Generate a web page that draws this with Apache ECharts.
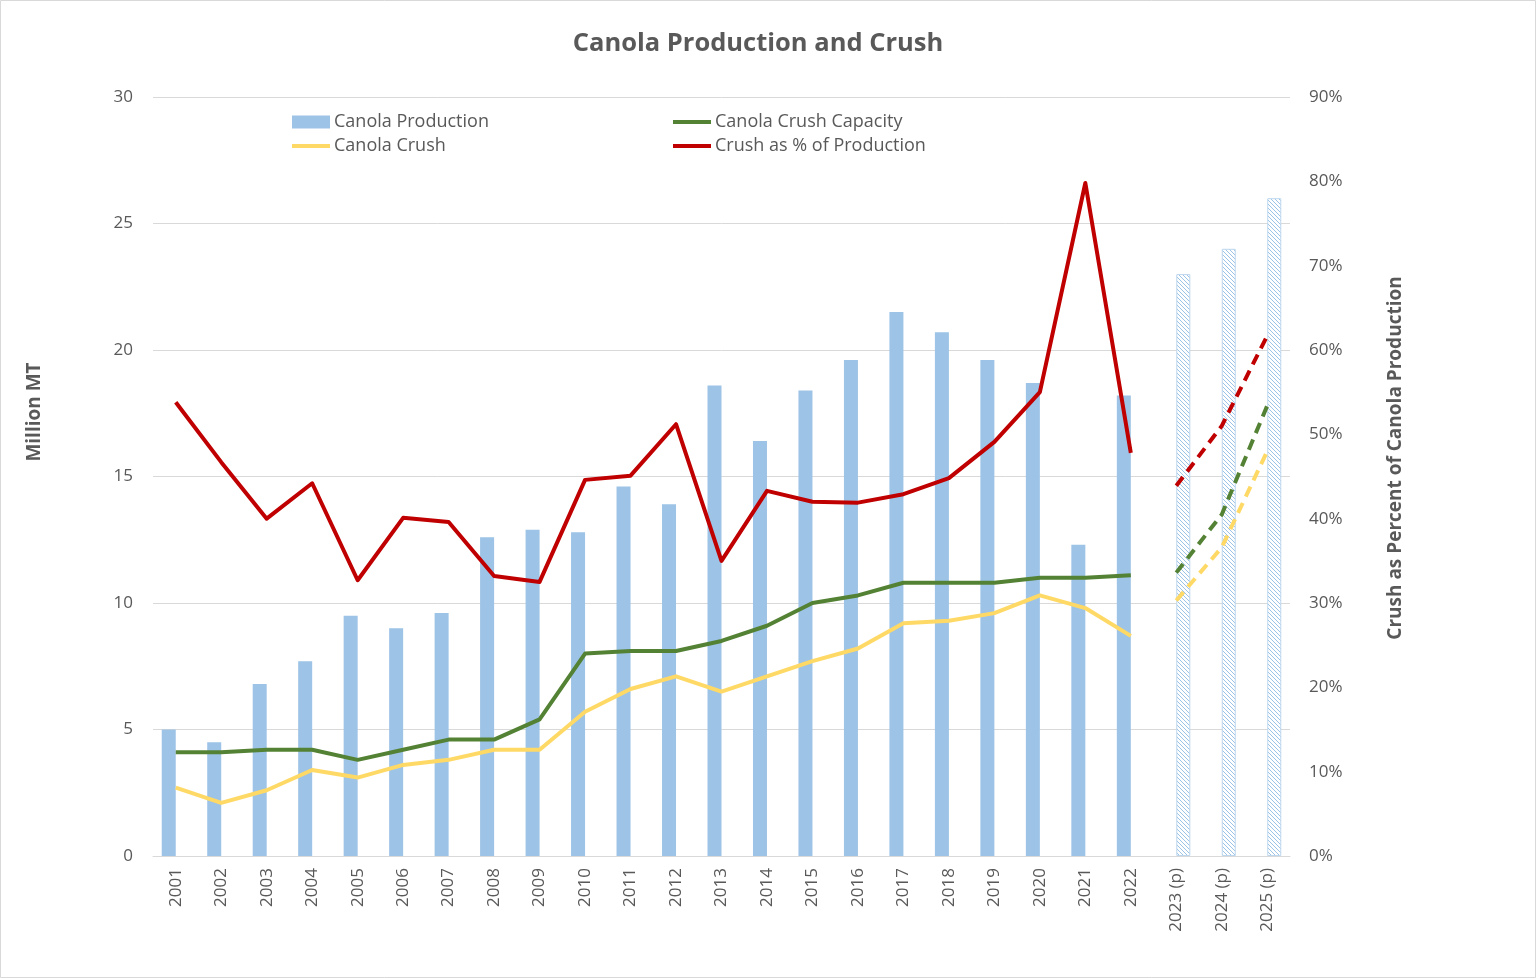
<!DOCTYPE html>
<html><head><meta charset="utf-8">
<script src="https://cdn.jsdelivr.net/npm/echarts@6/dist/echarts.min.js"></script>
<style>
html,body{margin:0;padding:0;background:#fff;}
#c{width:1536px;height:978px;}
</style></head>
<body><div id="c"></div>
<script>
const categories = ['2001','2002','2003','2004','2005','2006','2007','2008','2009','2010','2011','2012','2013','2014','2015','2016','2017','2018','2019','2020','2021','2022','2023 (p)','2024 (p)','2025 (p)'];
const production = [5.0,4.5,6.8,7.7,9.5,9.0,9.6,12.6,12.9,12.8,14.6,13.9,18.6,16.4,18.4,19.6,21.5,20.7,19.6,18.7,12.3,18.2,null,null,null];
const productionProj = [null,null,null,null,null,null,null,null,null,null,null,null,null,null,null,null,null,null,null,null,null,null,23.0,24.0,26.0];
const crushCapacity = [4.1,4.1,4.2,4.2,3.8,4.2,4.6,4.6,5.4,8.0,8.1,8.1,8.5,9.1,10.0,10.3,10.8,10.8,10.8,11.0,11.0,11.1,null,null,null];
const crushCapacityProj = [null,null,null,null,null,null,null,null,null,null,null,null,null,null,null,null,null,null,null,null,null,null,11.2,13.5,17.8];
const crush = [2.7,2.1,2.6,3.4,3.1,3.6,3.8,4.2,4.2,5.7,6.6,7.1,6.5,7.1,7.7,8.2,9.2,9.3,9.6,10.3,9.8,8.7,null,null,null];
const crushProj = [null,null,null,null,null,null,null,null,null,null,null,null,null,null,null,null,null,null,null,null,null,null,10.1,12.2,16.0];
const crushPct = [53.8,46.7,40.0,44.2,32.7,40.1,39.6,33.2,32.5,44.6,45.1,51.2,35.0,43.3,42.0,41.9,42.9,44.8,49.1,55.0,79.8,47.8,null,null,null];
const crushPctProj = [null,null,null,null,null,null,null,null,null,null,null,null,null,null,null,null,null,null,null,null,null,null,43.9,51.0,61.7];
const leftTicks = {min:0,max:30,interval:5};
const rightTicks = {min:0,max:90,interval:10};

const FONT = '"Open Sans", "Noto Sans", sans-serif';
const TXT = '#595959';
const BLUE = '#9DC3E6', GREEN = '#548235', YELLOW = '#FFD966', RED = '#C00000';

// hatch pattern
const pc = document.createElement('canvas');
pc.width = 4; pc.height = 4;
const pctx = pc.getContext('2d');
pctx.fillStyle = '#ffffff'; pctx.fillRect(0,0,4,4);
pctx.strokeStyle = BLUE; pctx.lineWidth = 1;
pctx.beginPath();
pctx.moveTo(-1,-1); pctx.lineTo(5,5);
pctx.moveTo(-1,3); pctx.lineTo(1,5);
pctx.moveTo(3,-1); pctx.lineTo(5,1);
pctx.stroke();

const chart = echarts.init(document.getElementById('c'), null, {renderer:'canvas'});
const legendBase = (name, left, top, h) => ({
  data:[name], left:left, top:top, padding:0, itemWidth:38, itemHeight:h, itemGap:0,
  icon:'rect', selectedMode:false,
  textStyle:{fontFamily:FONT, fontSize:18, color:TXT, padding:[0,0,0,-1], lineHeight:20}
});
const lineSeries = (name, data, color, dashed, z) => ({
  name:name, type:'line', data:data, yAxisIndex: name.indexOf('%')>=0 ? 1 : 0,
  symbol:'none', connectNulls:false, z:z,
  lineStyle:{color:color, width:4, type: dashed ? [11,7] : 'solid', cap:'butt', join:'round'},
  itemStyle:{color:color}
});

chart.setOption({
  animation:false,
  backgroundColor:'#ffffff',
  title:{text:'Canola Production and Crush', left:753, top:26, textAlign:'center',
    textStyle:{fontFamily:FONT, fontSize:25.5, fontWeight:'bold', color:TXT}},
  legend:[
    legendBase('Canola Production', 292, 112, 13),
    legendBase('Canola Crush Capacity', 673, 112, 4),
    legendBase('Canola Crush', 292, 136, 4),
    legendBase('Crush as % of Production', 673, 136, 4)
  ],
  grid:{left:153, right:246, top:97, bottom:122},
  xAxis:{type:'category', data:categories,
    axisLine:{lineStyle:{color:'#D9D9D9', width:1}}, axisTick:{show:false},
    axisLabel:{rotate:90, fontFamily:FONT, fontSize:17, color:TXT, margin:12, interval:0}},
  yAxis:[
    {type:'value', min:leftTicks.min, max:leftTicks.max, interval:leftTicks.interval,
      axisLine:{show:false}, axisTick:{show:false},
      splitLine:{lineStyle:{color:'#D9D9D9', width:1}},
      axisLabel:{fontFamily:FONT, fontSize:17, color:TXT, margin:20}},
    {type:'value', min:rightTicks.min, max:rightTicks.max, interval:rightTicks.interval,
      axisLine:{show:false}, axisTick:{show:false}, splitLine:{show:false},
      axisLabel:{fontFamily:FONT, fontSize:17, color:TXT, margin:19, formatter:'{value}%'}}
  ],
  graphic:[
    {type:'rect', shape:{x:0.5, y:0.5, width:1535, height:977}, style:{fill:'none', stroke:'#D9D9D9', lineWidth:1}, silent:true},
    {type:'text', rotation:Math.PI/2, x:35, y:412,
      style:{text:'Million MT', font:'bold 19px '+FONT, fill:TXT, textAlign:'center', textVerticalAlign:'middle'}},
    {type:'text', rotation:Math.PI/2, x:1396, y:458,
      style:{text:'Crush as Percent of Canola Production', font:'bold 19px '+FONT, fill:TXT, textAlign:'center', textVerticalAlign:'middle'}}
  ],
  series:[
    {name:'Canola Production', type:'bar', data:production, barWidth:14, barGap:'0%',
      itemStyle:{color:BLUE}, z:1},
    {name:'Canola Production (p)', type:'bar', data:productionProj, barWidth:14, barGap:'0%',
      itemStyle:{color:{image:pc, repeat:'repeat'}, borderColor:'#BDD7EE', borderWidth:1}, z:1},
    lineSeries('Canola Crush', crush, YELLOW, false, 3),
    lineSeries('Canola Crush Capacity', crushCapacity, GREEN, false, 4),
    lineSeries('Crush as % of Production', crushPct, RED, false, 5),
    lineSeries('Canola Crush (p)', crushProj, YELLOW, true, 3),
    lineSeries('Canola Crush Capacity (p)', crushCapacityProj, GREEN, true, 4),
    lineSeries('Crush as % of Production (p)', crushPctProj, RED, true, 5)
  ]
});
</script></body></html>
